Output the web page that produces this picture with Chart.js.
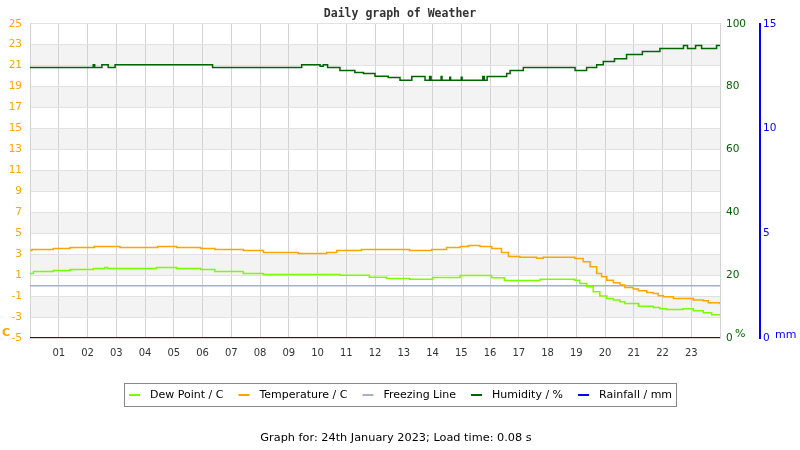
<!DOCTYPE html>
<html>
<head>
<meta charset="utf-8">
<script src="https://cdn.jsdelivr.net/npm/chart.js@4.4.1/dist/chart.umd.min.js"></script>
<style>
  html, body { margin: 0; padding: 0; background: #fff; }
</style>
</head>
<body>
<canvas id="weather" width="800" height="450"></canvas>
<script>
// hour tick labels
const hourLabels = ['01', '02', '03', '04', '05', '06', '07', '08', '09', '10', '11', '12',
  '13', '14', '15', '16', '17', '18', '19', '20', '21', '22', '23'];

// each value holds from its hour until the next one
const tempHours = [0, 0.07, 0.81, 1.39, 2.23, 3.13, 4.44, 5.1, 5.94, 6.43, 7.42, 8.12, 9.33,
  10.32, 10.67, 11.53, 13.2, 13.97, 14.49, 14.96, 15.25, 15.65, 16.06, 16.4, 16.64, 17.04,
  17.62, 17.85, 18.95, 19.24, 19.48, 19.71, 19.88, 20.06, 20.29, 20.52, 20.69, 20.98, 21.16,
  21.45, 21.68, 21.85, 22.03, 22.38, 23.07, 23.42, 23.59, 24];
const tempValues = [3.36, 3.45, 3.55, 3.65, 3.74, 3.65, 3.74, 3.65, 3.55, 3.45, 3.36, 3.17, 3.07,
  3.17, 3.36, 3.45, 3.36, 3.45, 3.65, 3.74, 3.84, 3.74, 3.55, 3.17, 2.78, 2.72,
  2.62, 2.72, 2.59, 2.27, 1.8, 1.16, 0.84, 0.52, 0.27, 0.05, -0.17, -0.33, -0.5,
  -0.65, -0.74, -0.97, -1.07, -1.22, -1.38, -1.45, -1.64, -1.77];

const dewHours = [0, 0.12, 0.81, 1.39, 2.2, 2.6, 2.7, 4.4, 5.1, 5.94, 6.43, 7.42, 8.12, 10.78,
  11.8, 12.4, 13.2, 14.0, 14.96, 16.06, 16.5, 17.74, 18.95, 19.12, 19.36, 19.59, 19.82, 20.06,
  20.29, 20.52, 20.69, 21.16, 21.68, 21.91, 22.14, 22.72, 23.07, 23.42, 23.71, 24];
const dewValues = [1.16, 1.35, 1.45, 1.55, 1.64, 1.74, 1.64, 1.74, 1.64, 1.55, 1.35, 1.16, 1.07, 1.0,
  0.81, 0.69, 0.6, 0.78, 0.97, 0.75, 0.5, 0.6, 0.52, 0.21, -0.11, -0.59, -1.0, -1.22,
  -1.38, -1.54, -1.7, -1.96, -2.08, -2.21, -2.27, -2.21, -2.4, -2.59, -2.79, -2.79];

const humHours = [0, 2.2, 2.25, 2.5, 2.72, 2.96, 6.35, 9.45, 10.09, 10.2, 10.35, 10.78, 11.3, 11.6,
  12.0, 12.46, 12.87, 13.28, 13.74, 13.9, 13.95, 14.3, 14.33, 14.6, 14.63, 15.0, 15.03, 15.75,
  15.8, 15.9, 16.58, 16.7, 17.16, 18.96, 19.36, 19.71, 19.94, 20.33, 20.75, 21.3, 21.91, 22.73,
  22.87, 23.15, 23.36, 23.88, 24];
const humValues = [86.1, 87.0, 86.1, 87.0, 86.1, 87.0, 86.1, 87.0, 86.5, 87.0, 86.1, 85.1, 84.5, 84.2,
  83.3, 82.9, 82.0, 83.2, 82.0, 83.2, 82.0, 83.2, 82.0, 83.0, 82.0, 83.0, 82.0, 83.2,
  82.0, 83.2, 84.2, 85.1, 86.1, 85.1, 86.1, 87.0, 88.0, 88.9, 90.2, 91.2, 92.1, 93.1,
  92.1, 93.1, 92.1, 93.1, 93.1];

const freezeHours = [0, 24];
const freezeValues = [0, 0];

const rainHours = [0, 24];
const rainValues = [0, 0];

const toPoints = (xs, ys) => xs.map((x, i) => ({ x: x, y: ys[i] }));

const FONT = 'DejaVu Sans';

// grey bands every other 2 degrees, drawn under the grid
const bandsPlugin = {
  id: 'bands',
  beforeDraw(chart) {
    const { ctx, chartArea } = chart;
    const y = chart.scales.y;
    ctx.save();
    ctx.fillStyle = '#f3f3f3';
    for (let v = -3; v < 25; v += 4) {
      const top = y.getPixelForValue(v + 2);
      const bottom = y.getPixelForValue(v);
      ctx.fillRect(chartArea.left, top, chartArea.right - chartArea.left, bottom - top);
    }
    ctx.restore();
  }
};

// boxed legend, unit labels and footer line
const extrasPlugin = {
  id: 'extras',
  afterDraw(chart) {
    const ctx = chart.ctx;
    ctx.save();
    ctx.textBaseline = 'middle';

    // unit labels
    ctx.font = 'bold 11px ' + FONT;
    ctx.fillStyle = '#ffa500';
    ctx.textAlign = 'left';
    ctx.fillText('C', 2, 333);
    ctx.font = '11px ' + FONT;
    ctx.fillStyle = '#006400';
    ctx.fillText('%', 735, 334);
    ctx.fillStyle = '#0000ff';
    ctx.fillText('mm', 775, 335);

    // legend
    ctx.font = '11px ' + FONT;
    const items = chart.data.datasets.map(d => ({ text: d.label, color: d.borderColor }));
    const markerW = 11, gap = 10, itemGap = 15, pad = 4.5;
    const widths = items.map(it => markerW + gap + ctx.measureText(it.text).width);
    const total = widths.reduce((a, b) => a + b, 0) + itemGap * (items.length - 1);
    const boxW = total + pad * 2;
    const boxLeft = Math.round(400 - boxW / 2) + 0.5;
    const cy = 395;
    ctx.strokeStyle = '#888888';
    ctx.lineWidth = 1;
    ctx.strokeRect(boxLeft, 383.5, Math.round(boxW), 23);
    let x = boxLeft + pad;
    items.forEach((it, i) => {
      ctx.fillStyle = it.color;
      ctx.fillRect(x, cy - 1, markerW, 2);
      ctx.fillStyle = '#000';
      ctx.fillText(it.text, x + markerW + gap, cy);
      x += widths[i] + itemGap;
    });

    // footer
    ctx.textAlign = 'center';
    ctx.font = '11.3px ' + FONT;
    ctx.fillText('Graph for: 24th January 2023; Load time: 0.08 s', 396, 438);
    ctx.restore();
  }
};

new Chart(document.getElementById('weather'), {
  type: 'line',
  data: {
    datasets: [
      {
        label: 'Dew Point / C',
        data: toPoints(dewHours, dewValues),
        borderColor: '#7cfc00',
        yAxisID: 'y'
      },
      {
        label: 'Temperature / C',
        data: toPoints(tempHours, tempValues),
        borderColor: '#ffa500',
        yAxisID: 'y'
      },
      {
        label: 'Freezing Line',
        data: toPoints(freezeHours, freezeValues),
        borderColor: '#a4b2c6',
        yAxisID: 'y'
      },
      {
        label: 'Humidity / %',
        data: toPoints(humHours, humValues),
        borderColor: '#006400',
        yAxisID: 'y1'
      },
      {
        label: 'Rainfall / mm',
        data: toPoints(rainHours, rainValues),
        borderColor: '#0000ff',
        borderWidth: 2,
        yAxisID: 'y2'
      }
    ]
  },
  options: {
    responsive: false,
    animation: false,
    datasets: {
      line: { stepped: true, borderWidth: 1.5, pointRadius: 0, fill: false }
    },
    layout: { padding: { left: 0, right: 0, top: 0, bottom: 92 } },
    plugins: {
      legend: { display: false },
      tooltip: { enabled: false },
      title: {
        display: true,
        text: 'Daily graph of Weather',
        color: '#333333',
        font: { family: 'DejaVu Sans Mono', weight: 'bold', size: 11.5 },
        padding: { top: 7, bottom: 3 }
      }
    },
    scales: {
      x: {
        type: 'linear',
        min: 0,
        max: 24,
        afterFit: s => { s.height = 20; },
        ticks: {
          stepSize: 1,
          autoSkip: false,
          maxRotation: 0,
          padding: 9,
          color: '#333333',
          font: { family: FONT, size: 10 },
          callback: v => (v > 0 && v < 24) ? hourLabels[v - 1] : ''
        },
        grid: { color: '#d3d3d3', drawTicks: false },
        border: { color: '#d3d3d3' }
      },
      y: {
        position: 'left',
        min: -5,
        max: 25,
        afterFit: s => { s.width = 30; },
        ticks: {
          stepSize: 2,
          padding: 8,
          color: '#ffa500',
          font: { family: FONT, size: 10.5 }
        },
        grid: { color: '#e2e2e2', drawTicks: false },
        border: { color: '#d3d3d3' }
      },
      y1: {
        position: 'right',
        min: 0,
        max: 100,
        afterFit: s => { s.width = 40; },
        ticks: {
          stepSize: 20,
          padding: 6,
          color: '#006400',
          font: { family: FONT, size: 10.5 }
        },
        grid: { display: false, drawTicks: false },
        border: { color: '#d3d3d3' }
      },
      y2: {
        position: 'right',
        min: 0,
        max: 15,
        afterFit: s => { s.width = 40; },
        ticks: {
          stepSize: 5,
          padding: 3,
          color: '#0000ff',
          font: { family: FONT, size: 10.5 }
        },
        grid: { display: false, drawTicks: false },
        border: { color: '#0000ff', width: 2 }
      }
    }
  },
  plugins: [bandsPlugin, extrasPlugin]
});
</script>
</body>
</html>
